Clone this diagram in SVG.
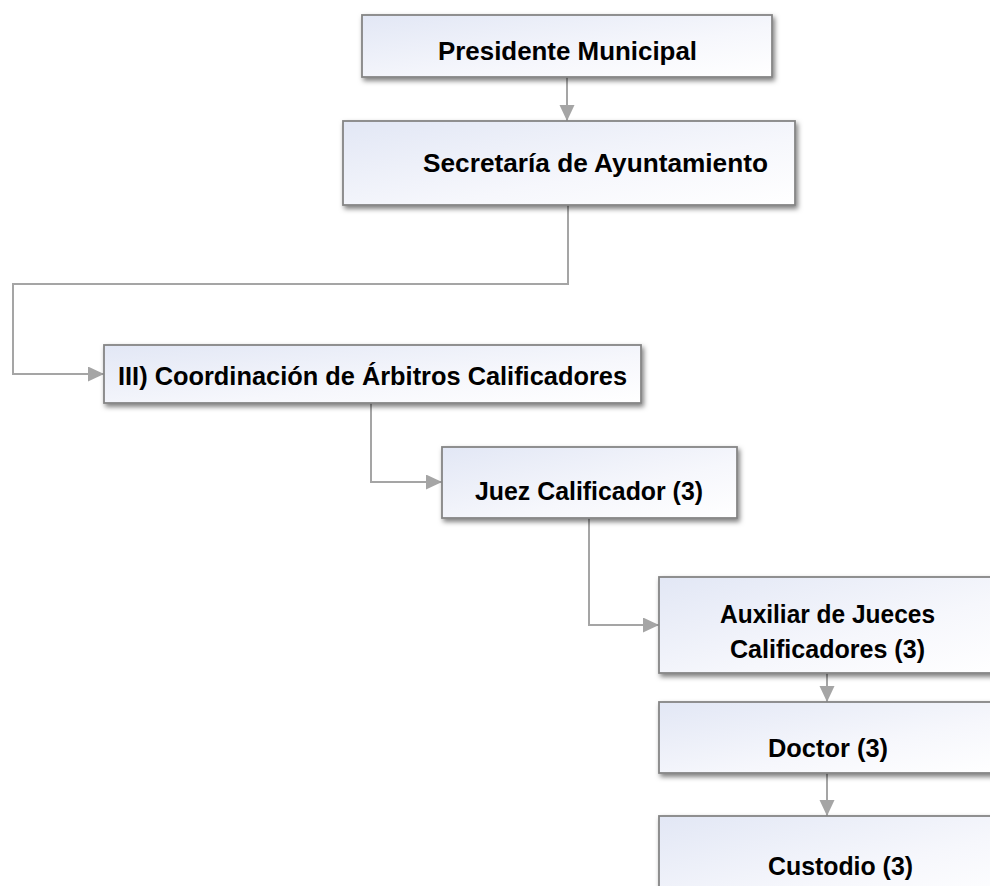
<svg xmlns="http://www.w3.org/2000/svg" width="990" height="886" viewBox="0 0 990 886">
<defs>
<linearGradient id="fill" x1="0" y1="0" x2="1" y2="1">
<stop offset="0" stop-color="#e2e7f5"/>
<stop offset="0.6" stop-color="#f6f7fc"/>
<stop offset="1" stop-color="#ffffff"/>
</linearGradient>
<filter id="sh" x="-10%" y="-20%" width="120%" height="150%">
<feDropShadow dx="2" dy="3" stdDeviation="2.5" flood-color="#000000" flood-opacity="0.5"/>
</filter>
<marker id="arr" markerUnits="userSpaceOnUse" markerWidth="18" markerHeight="18" refX="16" refY="7.5" orient="auto">
<path d="M0,0 L16,7.5 L0,15 z" fill="#a5a5a5"/>
</marker>
<style>
.box{fill:url(#fill);stroke:#858585;stroke-width:1.8;filter:url(#sh)}
.lbl{font-family:"Liberation Sans",Arial,sans-serif;font-weight:bold;font-size:26px;fill:#000000}
.con{fill:none;stroke:#a5a5a5;stroke-width:2}
</style>
</defs>
<rect width="990" height="886" fill="#ffffff"/>
<g id="connectors">
<path class="con" d="M567,77 V121" marker-end="url(#arr)"/>
<path class="con" d="M568,205 V284 H13 V374 H104" marker-end="url(#arr)"/>
<path class="con" d="M371,403 V482 H442" marker-end="url(#arr)"/>
<path class="con" d="M589,518 V625 H659" marker-end="url(#arr)"/>
<path class="con" d="M827,673 V702" marker-end="url(#arr)"/>
<path class="con" d="M827,773 V816" marker-end="url(#arr)"/>
</g>
<g id="presidente">
<rect class="box" x="362" y="15" width="410" height="62"/>
<text class="lbl" x="438" y="60" textLength="259" lengthAdjust="spacingAndGlyphs">Presidente Municipal</text>
</g>
<g id="secretaria">
<rect class="box" x="343" y="121" width="452" height="84"/>
<text class="lbl" x="423" y="172" textLength="345" lengthAdjust="spacingAndGlyphs">Secretaría de Ayuntamiento</text>
</g>
<g id="coordinacion">
<rect class="box" x="104" y="345" width="537" height="58"/>
<text class="lbl" x="118" y="385" textLength="509" lengthAdjust="spacingAndGlyphs">III) Coordinación de Árbitros Calificadores</text>
</g>
<g id="juez">
<rect class="box" x="442" y="447" width="295" height="71"/>
<text class="lbl" x="475" y="500" textLength="228" lengthAdjust="spacingAndGlyphs">Juez Calificador (3)</text>
</g>
<g id="auxiliar">
<rect class="box" x="659" y="577" width="345" height="96"/>
<text class="lbl" x="720" y="623" textLength="215" lengthAdjust="spacingAndGlyphs">Auxiliar de Jueces</text>
<text class="lbl" x="730" y="658" textLength="195" lengthAdjust="spacingAndGlyphs">Calificadores (3)</text>
</g>
<g id="doctor">
<rect class="box" x="659" y="702" width="345" height="71"/>
<text class="lbl" x="768" y="757" textLength="120" lengthAdjust="spacingAndGlyphs">Doctor (3)</text>
</g>
<g id="custodio">
<rect class="box" x="659" y="816" width="345" height="90"/>
<text class="lbl" x="768" y="875" textLength="145" lengthAdjust="spacingAndGlyphs">Custodio (3)</text>
</g>
</svg>
